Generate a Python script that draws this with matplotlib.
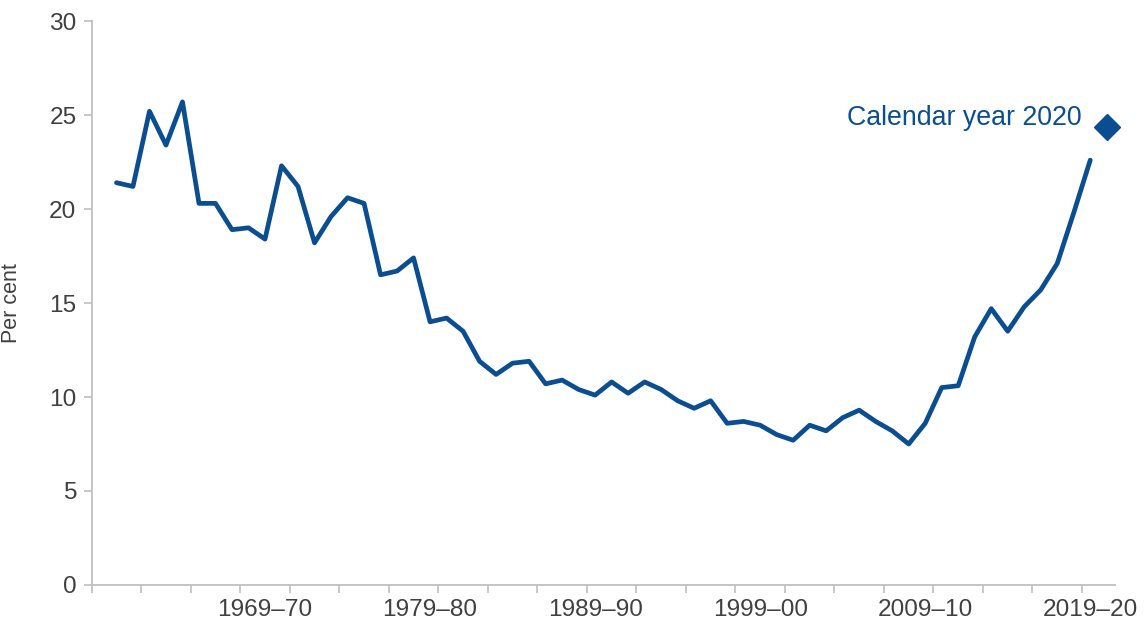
import matplotlib
matplotlib.use('Agg')
import matplotlib.pyplot as plt
import numpy as np

plt.rcParams['font.family'] = ['Liberation Sans', 'DejaVu Sans']

# fiscal years 1960-61 .. 2019-20, per cent
values = [21.4, 21.2, 25.2, 23.4, 25.7, 20.3, 20.3, 18.9, 19.0, 18.4,
          22.3, 21.2, 18.2, 19.6, 20.6, 20.3, 16.5, 16.7, 17.4, 14.0,
          14.2, 13.5, 11.9, 11.2, 11.8, 11.9, 10.7, 10.9, 10.4, 10.1,
          10.8, 10.2, 10.8, 10.4, 9.8, 9.4, 9.8, 8.6, 8.7, 8.5,
          8.0, 7.7, 8.5, 8.2, 8.9, 9.3, 8.7, 8.2, 7.5, 8.6,
          10.5, 10.6, 13.2, 14.7, 13.5, 14.8, 15.7, 17.1, 19.8, 22.6]
first_year = 1960
calendar_2020 = 24.35
tick_labels = ['1969–70', '1979–80', '1989–90', '1999–00', '2009–10', '2019–20']

blue = '#0A4E91'
grey = '#BFBFBF'
txt = '#404040'

# category axis: slot 0 is 1959-60 (empty), last slot is calendar 2020
years = np.arange(first_year, first_year + len(values))
pos = years - 1959 + 0.5
n_cat = len(values) + 2

fig = plt.figure(figsize=(11.45, 6.28), dpi=100)
ax = fig.add_axes([0.0801, 0.0685, 0.8937, 0.898])

ax.plot(pos, values, color=blue, lw=3.4, solid_joinstyle='round', solid_capstyle='round')
ax.plot([n_cat - 0.5], [calendar_2020], marker='D', ms=13.5, color=blue, ls='none',
        clip_on=False)
ax.text(60.0, 24.85, 'Calendar year 2020', color=blue, fontsize=19.3,
        ha='right', va='center')

ax.set_xlim(0, n_cat)
ax.set_ylim(0, 30)
ax.set_yticks(np.arange(0, 31, 5))

ax.set_xticks(np.arange(0, n_cat - 1, 3))
ax.set_xticklabels([])
lab_pos = [int(l[:4]) - 1959 + 0.5 for l in tick_labels]
ax.set_xticks(lab_pos, minor=True)
ax.set_xticklabels(tick_labels, minor=True)

ax.tick_params(axis='x', which='major', length=6, color=grey, width=1.2)
ax.tick_params(axis='x', which='minor', length=0, pad=10, labelsize=17.6, labelcolor=txt)
ax.tick_params(axis='y', length=6, color=grey, width=1.2, pad=5, labelsize=17.6, labelcolor=txt)

for s in ['top', 'right']:
    ax.spines[s].set_visible(False)
for s in ['left', 'bottom']:
    ax.spines[s].set_color(grey)
    ax.spines[s].set_linewidth(1.3)

ax.set_ylabel('Per cent', fontsize=15.5, color=txt)
ax.yaxis.set_label_coords(-0.068, 0.5)

fig.savefig('out.png', dpi=100)
